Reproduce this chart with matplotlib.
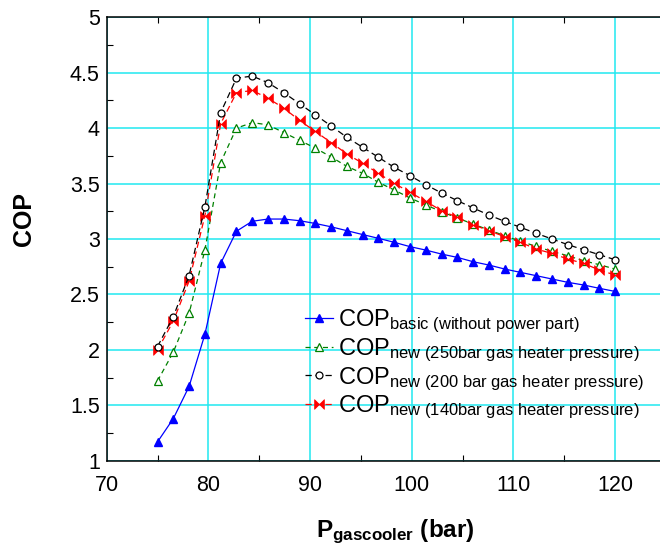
import numpy as np
import matplotlib
matplotlib.use("Agg")
import matplotlib.pyplot as plt
from matplotlib.path import Path
from matplotlib.ticker import MultipleLocator

plt.rcParams["font.family"] = ["Liberation Sans", "DejaVu Sans"]
plt.rcParams["mathtext.fontset"] = "custom"
plt.rcParams["mathtext.rm"] = "Liberation Sans"
plt.rcParams["mathtext.it"] = "Liberation Sans:italic"
plt.rcParams["mathtext.bf"] = "Liberation Sans:bold"

# gas cooler pressure (bar), 30 points from 75 to 120
p_gc = np.linspace(75, 120, 30)

cop_basic = [1.17, 1.38, 1.67, 2.14, 2.78, 3.07, 3.16, 3.18, 3.18, 3.165,
             3.14, 3.11, 3.075, 3.04, 3.006, 2.97, 2.931, 2.90, 2.864, 2.834,
             2.795, 2.765, 2.729, 2.699, 2.669, 2.639, 2.609, 2.585, 2.555, 2.527]
cop_250 = [1.72, 1.98, 2.33, 2.90, 3.69, 4.00, 4.05, 4.03, 3.96, 3.89,
           3.82, 3.74, 3.655, 3.592, 3.511, 3.442, 3.37, 3.307, 3.246, 3.189,
           3.135, 3.081, 3.03, 2.979, 2.933, 2.888, 2.849, 2.804, 2.768, 2.729]
cop_200 = [2.03, 2.30, 2.67, 3.29, 4.14, 4.45, 4.47, 4.41, 4.32, 4.22,
           4.12, 4.02, 3.917, 3.827, 3.737, 3.646, 3.571, 3.49, 3.415, 3.346,
           3.28, 3.216, 3.159, 3.105, 3.051, 3.0, 2.949, 2.903, 2.858, 2.813]
cop_140 = [2.00, 2.26, 2.62, 3.21, 4.04, 4.32, 4.34, 4.27, 4.18, 4.07,
           3.97, 3.87, 3.767, 3.683, 3.592, 3.502, 3.421, 3.34, 3.255, 3.195,
           3.129, 3.075, 3.021, 2.970, 2.909, 2.870, 2.819, 2.78, 2.72, 2.675]

labels = [r"COP$_{\mathrm{basic\ (without\ power\ part)}}$",
          r"COP$_{\mathrm{new\ (250bar\ gas\ heater\ pressure)}}$",
          r"COP$_{\mathrm{new\ (200\ bar\ gas\ heater\ pressure)}}$",
          r"COP$_{\mathrm{new\ (140bar\ gas\ heater\ pressure)}}$"]

bowtie = Path([(-1, -1), (-1, 1), (0, 0), (1, 1), (1, -1), (0, 0), (-1, -1)],
              [Path.MOVETO, Path.LINETO, Path.LINETO, Path.LINETO,
               Path.LINETO, Path.LINETO, Path.CLOSEPOLY])

W, H = 660, 547
fig = plt.figure(figsize=(W / 100, H / 100), dpi=100)
ax = fig.add_axes([106.7 / W, (H - 460.7) / H, 559.3 / W, 443.4 / H])

ax.plot(p_gc, cop_basic, "-", color="#0000ff", lw=0.9, marker="^", ms=6,
        mfc="#0000ff", mec="#0000ff", label=labels[0], zorder=3)
ax.plot(p_gc, cop_250, color="#008000", lw=0.9, dashes=(4, 3), marker="^", ms=6,
        mfc="white", mec="#008000", mew=0.9, label=labels[1], zorder=3)
ax.plot(p_gc, cop_200, color="black", lw=0.9, dashes=(5, 3), marker="o", ms=5,
        mfc="white", mec="black", mew=0.9, label=labels[2], zorder=4)
ax.plot(p_gc, cop_140, color="#ff0000", lw=0.9, dashes=(5, 3), marker=bowtie, ms=7,
        mfc="#ff0000", mec="#ff0000", mew=0.5, label=labels[3], zorder=3)

ax.set_xlim(70, 125)
ax.set_ylim(1, 5)
ax.xaxis.set_major_locator(MultipleLocator(10))
ax.xaxis.set_minor_locator(MultipleLocator(5))
ax.yaxis.set_major_locator(MultipleLocator(0.5))
ax.yaxis.set_minor_locator(MultipleLocator(0.25))
ax.yaxis.set_major_formatter(plt.FuncFormatter(lambda v, _: f"{v:g}"))
ax.grid(True, which="major", color="#20e8f0", lw=1.1, zorder=0)
ax.tick_params(which="major", length=0, labelsize=15.5)
ax.tick_params(axis="x", which="major", pad=10)
ax.tick_params(axis="y", which="major", pad=5)
ax.tick_params(which="minor", direction="in", length=4, width=0.8,
               top=True, right=False)
for s in ax.spines.values():
    s.set_linewidth(1.1)
ax.spines["right"].set_visible(False)

fig.text(24 / W, 1 - 219 / H, "COP", rotation=90, ha="center", va="center",
         fontsize=18, fontweight="bold")
fig.text(395.5 / W, 1 - 537 / H, r"P$_{\mathbf{gascooler}}$ (bar)", ha="center",
         va="baseline", fontsize=17.5, fontweight="bold")

ax.legend(loc="upper left", bbox_to_anchor=(305 / W, 1 - 308 / H),
          bbox_transform=fig.transFigure, frameon=False, fontsize=17,
          borderpad=0, borderaxespad=0, handlelength=1.2, handletextpad=0.2,
          labelspacing=0.05, numpoints=1)

fig.savefig("out.png", dpi=100)
